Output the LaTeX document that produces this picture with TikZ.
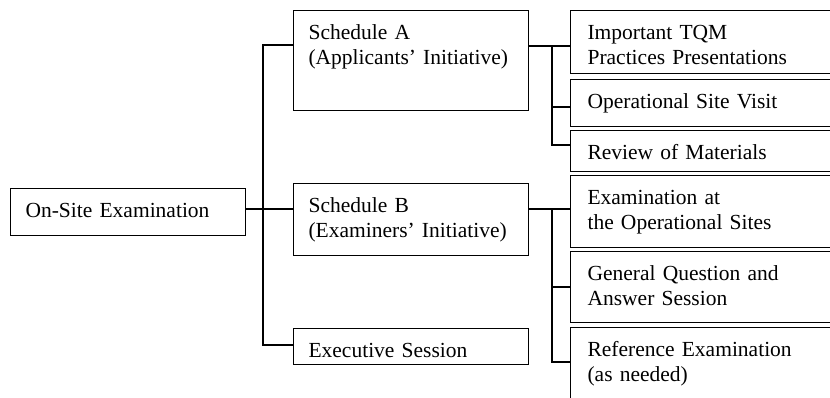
\documentclass[tikz,border=0pt]{standalone}
\usepackage{fontspec}
\setmainfont{Liberation Serif}
\begin{document}
\begin{tikzpicture}[x=1pt, y=-1pt, line width=1.1pt,
    box/.style={draw, anchor=north west, align=left, inner xsep=15pt, inner ysep=0pt,
        text height=28.5pt, font=\fontsize{21.5}{25}\selectfont},
    leftbox/.style={box, text width=205pt},
    rightbox/.style={box, inner xsep=17pt, text width=245pt}
    ]
    
    % Page frame (the right and bottom edge cut the last boxes)
    \clip (0,0) rectangle (830,397);
    
    % Root and the three schedules
    \node[leftbox, text depth=18.5pt] (onsite) at (10,188) {On-Site Examination};
    \node[leftbox, text depth=71.5pt] (schedA) at (293,10) {Schedule A\\(Applicants’ Initiative)};
    \node[leftbox, text depth=43.5pt] (schedB) at (293,183) {Schedule B\\(Examiners’ Initiative)};
    \node[leftbox, text depth=7.5pt] (exec) at (293,328) {Executive Session};
    
    % Activities of schedule A
    \node[rightbox, text depth=34.5pt] (actA1) at (570,10) {Important TQM\\Practices Presentations};
    \node[rightbox, text depth=18.5pt] (actA2) at (570,79) {Operational Site Visit};
    \node[rightbox, text depth=12.5pt] (actA3) at (570,130) {Review of Materials};
    
    % Activities of schedule B
    \node[rightbox, text depth=43.5pt] (actB1) at (570,175) {Examination at\\the Operational Sites};
    \node[rightbox, text depth=42.5pt] (actB2) at (570,251) {General Question and\\Answer Session};
    \node[rightbox, text depth=70pt] (actB3) at (570,327) {Reference Examination\\(as needed)};
    
    % Junctions
    \coordinate (ja) at (263,45);
    \coordinate (jb) at (263,209);
    \coordinate (jc) at (263,345);
    \coordinate (ka) at (552,46);
    \coordinate (kb) at (552,209);
    
    % Left tree
    \draw (ja -| schedA.west) -- (ja) -- (jc) -- (jc -| exec.west);
    \draw (onsite.east |- jb) -- (jb -| schedB.west);
    
    % Right trees
    \draw (schedA.east |- ka) -- (ka -| actA1.west);
    \draw (ka) -- (552,145) -- (actA3.west |- 0,145);
    \draw (552,107) -- (actA2.west |- 0,107);
    \draw (schedB.east |- kb) -- (kb -| actB1.west);
    \draw (kb) -- (552,362) -- (actB3.west |- 0,362);
    \draw (552,287) -- (actB2.west |- 0,287);
    
\end{tikzpicture}
\end{document}
